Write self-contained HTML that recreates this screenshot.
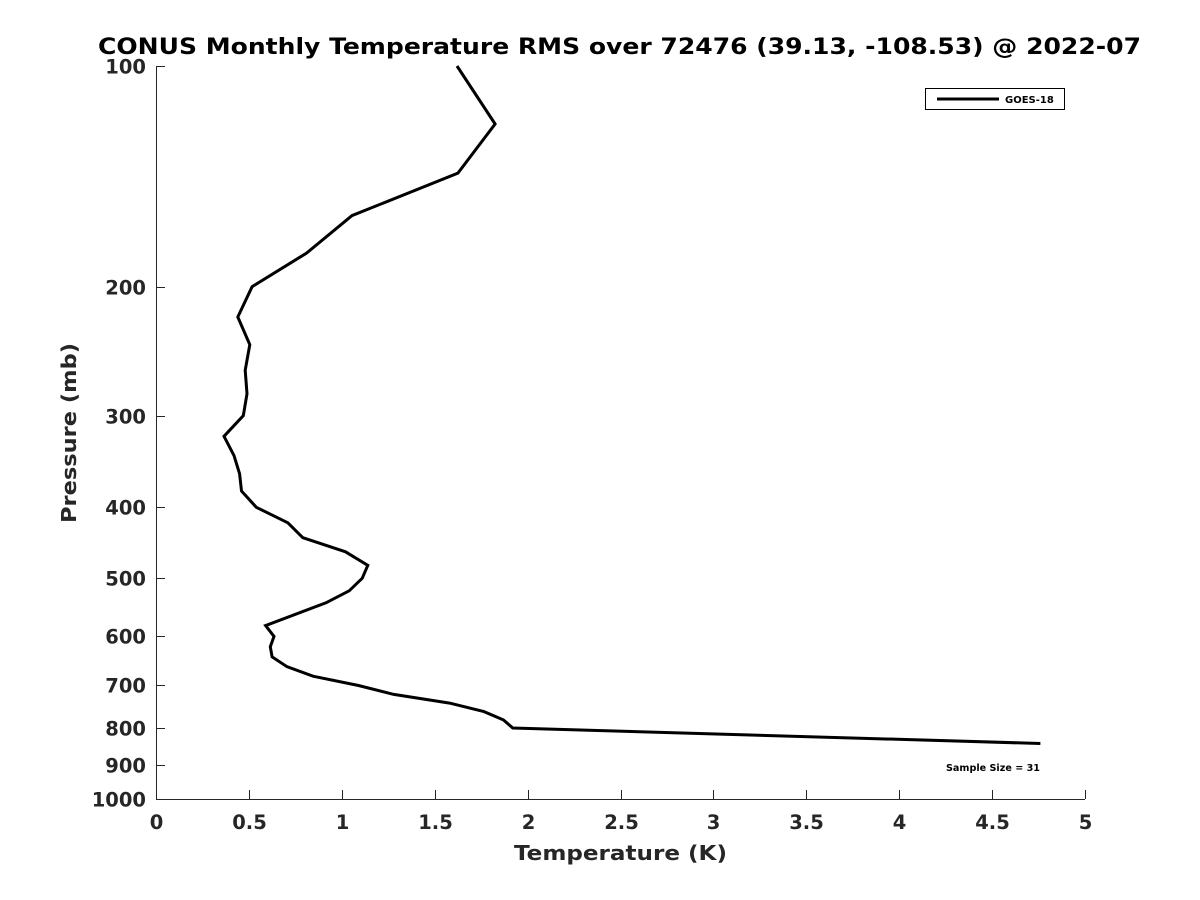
<!DOCTYPE html>
<html><head><meta charset="utf-8"><style>
body{margin:0;background:#fff;}
svg{display:block;font-family:"DejaVu Sans","Liberation Sans",sans-serif;}
</style></head><body>
<svg id="chart" width="1200" height="900">
<text x="98" y="54" textLength="1043" lengthAdjust="spacingAndGlyphs" font-size="22" font-weight="bold" fill="#000">CONUS Monthly Temperature RMS over 72476 (39.13, -108.53) @ 2022-07</text>
<g id="axes"></g>
<g id="series"></g>
<text x="514" y="860" textLength="213" lengthAdjust="spacingAndGlyphs" font-size="20" font-weight="bold" fill="#262626">Temperature (K)</text>
<text transform="translate(76,523) rotate(-90)" textLength="180" lengthAdjust="spacingAndGlyphs" font-size="20" font-weight="bold" fill="#262626">Pressure (mb)</text>
<g>
<rect x="925.5" y="88.5" width="139" height="21" fill="#fff" stroke="#000" stroke-width="1"/>
<line x1="937" y1="99" x2="999" y2="99" stroke="#000" stroke-width="3"/>
<text x="1005" y="103" font-size="10" font-weight="bold" fill="#000">GOES-18</text>
</g>
<text x="946" y="771" textLength="94" lengthAdjust="spacingAndGlyphs" font-size="10" font-weight="bold" fill="#000">Sample Size = 31</text>
</svg>
<script>
const pressures=[100,120,140,160,180,200,220,240,260,280,300,320,340,360,380,400,420,440,460,480,500,520,540,580,600,620,640,660,680,700,720,740,760,780,800,840];
const rmsValues=[1.62,1.825,1.625,1.055,0.81,0.517,0.44,0.505,0.48,0.49,0.47,0.366,0.42,0.45,0.46,0.54,0.71,0.79,1.02,1.14,1.11,1.04,0.915,0.59,0.635,0.615,0.625,0.705,0.845,1.09,1.28,1.58,1.765,1.87,1.92,4.76];
const xTicks=[0,0.5,1,1.5,2,2.5,3,3.5,4,4.5,5];
const yTicks=[100,200,300,400,500,600,700,800,900,1000];
const X0=156,X1=1085,Y0=66,Y1=799;
const xs=v=>X0+(v/5)*(X1-X0);
const ys=p=>Y0+Math.log10(p/100)*(Y1-Y0);
const NS="http://www.w3.org/2000/svg";
const axes=document.getElementById('axes'),series=document.getElementById('series');
function mk(t,a,parent){const e=document.createElementNS(NS,t);for(const k in a)e.setAttribute(k,a[k]);parent.appendChild(e);return e;}
let e=mk('line',{x1:X0,y1:Y1+0.5,x2:X1,y2:Y1+0.5,stroke:'#262626','stroke-width':1},axes);


e=mk('line',{x1:X0+0.5,y1:Y0,x2:X0+0.5,y2:Y1,stroke:'#262626','stroke-width':1},axes);


xTicks.forEach(v=>{const x=Math.round(xs(v))+0.5;
 mk('line',{x1:x,y1:Y1,x2:x,y2:Y1-9,stroke:'#262626'},axes);
 const t=mk('text',{x:x,y:Y1+30,'text-anchor':'middle','font-size':19.5,'font-weight':'bold',fill:'#262626'},axes);t.textContent=String(v);
 
 
});
yTicks.forEach(p=>{const y=Math.round(ys(p))+0.5;
 mk('line',{x1:X0,y1:y,x2:X0+9,y2:y,stroke:'#262626'},axes);
 const t=mk('text',{x:X0-10,y:y+7,'text-anchor':'end','font-size':19.5,'font-weight':'bold',fill:'#262626'},axes);t.textContent=String(p);
 
 
});
const pts=pressures.map((p,i)=>xs(rmsValues[i]).toFixed(1)+','+ys(p).toFixed(1)).join(' ');
const pl=mk('polyline',{points:pts,fill:'none',stroke:'#000','stroke-width':3,'stroke-linejoin':'miter'},series);


</script>
</body></html>
